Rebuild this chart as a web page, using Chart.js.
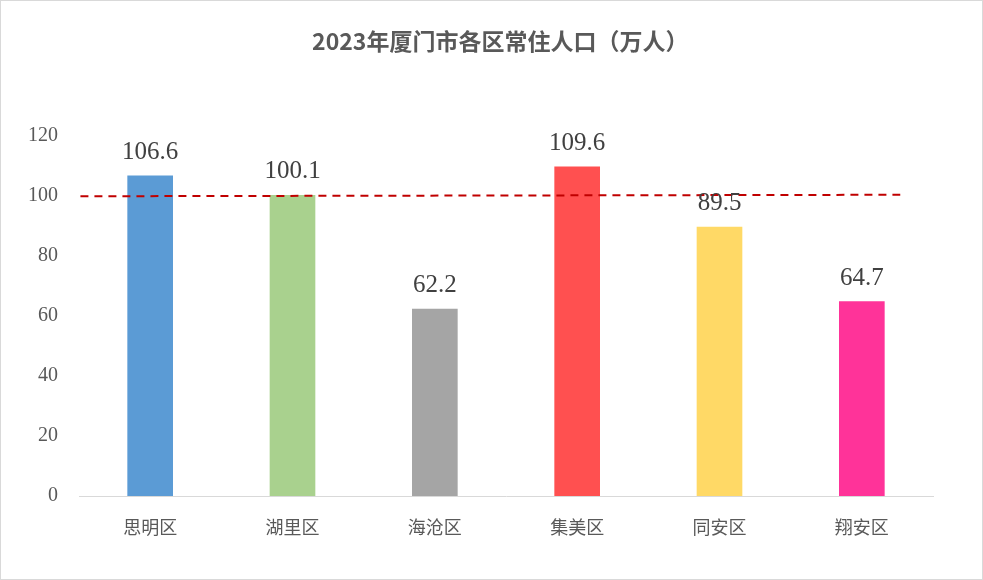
<!DOCTYPE html>
<html>
<head>
<meta charset="utf-8">
<script src="https://cdn.jsdelivr.net/npm/chart.js@4"></script>
<style>
  html, body { margin: 0; padding: 0; background: #ffffff; }
  #wrap { width: 983px; height: 580px; position: relative; }
</style>
</head>
<body>
<div id="wrap"><canvas id="popChart" width="983" height="580"></canvas></div>
<script>
let popChart = document.querySelector("#popChart");
let districts = ["思明区", "湖里区", "海沧区", "集美区", "同安区", "翔安区"];
let population = [106.6, 100.1, 62.2, 109.6, 89.5, 64.7];
let barColors = ["#5B9BD5", "#A9D18E", "#A5A5A5", "#FF5050", "#FFD966", "#FF3399"];
let yTicks = [0, 20, 40, 60, 80, 100, 120];
// reference dashed line, x in category index units (-0.5 = left edge of axis)
let refLineX = [-0.49, 5.27];
let refLineY = [99.8, 100.3];

const serif = "'Liberation Serif', 'DejaVu Serif', serif";
const cjk = "'Noto Sans CJK SC', 'Noto Sans', sans-serif";

// value labels above bars + outer frame
const extras = {
  id: "extras",
  afterDatasetsDraw(chart) {
    const ctx = chart.ctx;
    const meta = chart.getDatasetMeta(0);
    ctx.save();
    ctx.font = "25px " + serif;
    ctx.fillStyle = "#404040";
    ctx.textAlign = "center";
    ctx.textBaseline = "alphabetic";
    meta.data.forEach((bar, i) => {
      ctx.fillText(population[i].toFixed(1), bar.x, bar.y - 17);
    });
    ctx.restore();
  },
  afterDraw(chart) {
    const ctx = chart.ctx;
    ctx.save();
    ctx.strokeStyle = "#D9D9D9";
    ctx.lineWidth = 1;
    ctx.strokeRect(0.5, 0.5, chart.width - 1, chart.height - 1);
    ctx.restore();
  },
};

new Chart(popChart, {
  type: "bar",
  data: {
    labels: districts,
    datasets: [
      {
        type: "bar",
        data: population,
        backgroundColor: barColors,
        barThickness: 45,
        grouped: false,
        order: 2,
      },
      {
        type: "line",
        parsing: false,
        data: refLineX.map((x, i) => ({ x: x, y: refLineY[i] })),
        borderColor: "#C00000",
        borderWidth: 2,
        borderDash: [8, 6],
        pointRadius: 0,
        fill: false,
        order: 1,
      },
    ],
  },
  plugins: [extras],
  options: {
    responsive: false,
    animation: false,
    layout: {
      padding: { left: 0, right: 50, top: 0, bottom: 0 },
    },
    scales: {
      x: {
        grid: { display: false, drawTicks: false },
        border: { color: "#D9D9D9", width: 1 },
        ticks: {
          padding: 20,
          color: "#595959",
          font: { size: 18, family: cjk },
        },
        afterFit: (scale) => {
          scale.height = 84;
        },
      },
      y: {
        min: 0,
        max: 120,
        grid: { display: false, drawTicks: false },
        border: { display: false },
        afterBuildTicks: (scale) => {
          scale.ticks = yTicks.map((v) => ({ value: v }));
        },
        ticks: {
          padding: 21,
          color: "#595959",
          font: { size: 20, family: serif },
        },
        afterFit: (scale) => {
          scale.width = 79;
        },
      },
    },
    plugins: {
      legend: { display: false },
      tooltip: { enabled: false },
      title: {
        display: true,
        fullSize: false,
        // trailing ideographic space nudges the centred title a little left
        text: "2023年厦门市各区常住人口（万人）\u3000",
        color: "#595959",
        font: { size: 23, weight: "bold", family: cjk },
        padding: { top: 27, bottom: 81 },
      },
    },
  },
});
</script>
</body>
</html>
